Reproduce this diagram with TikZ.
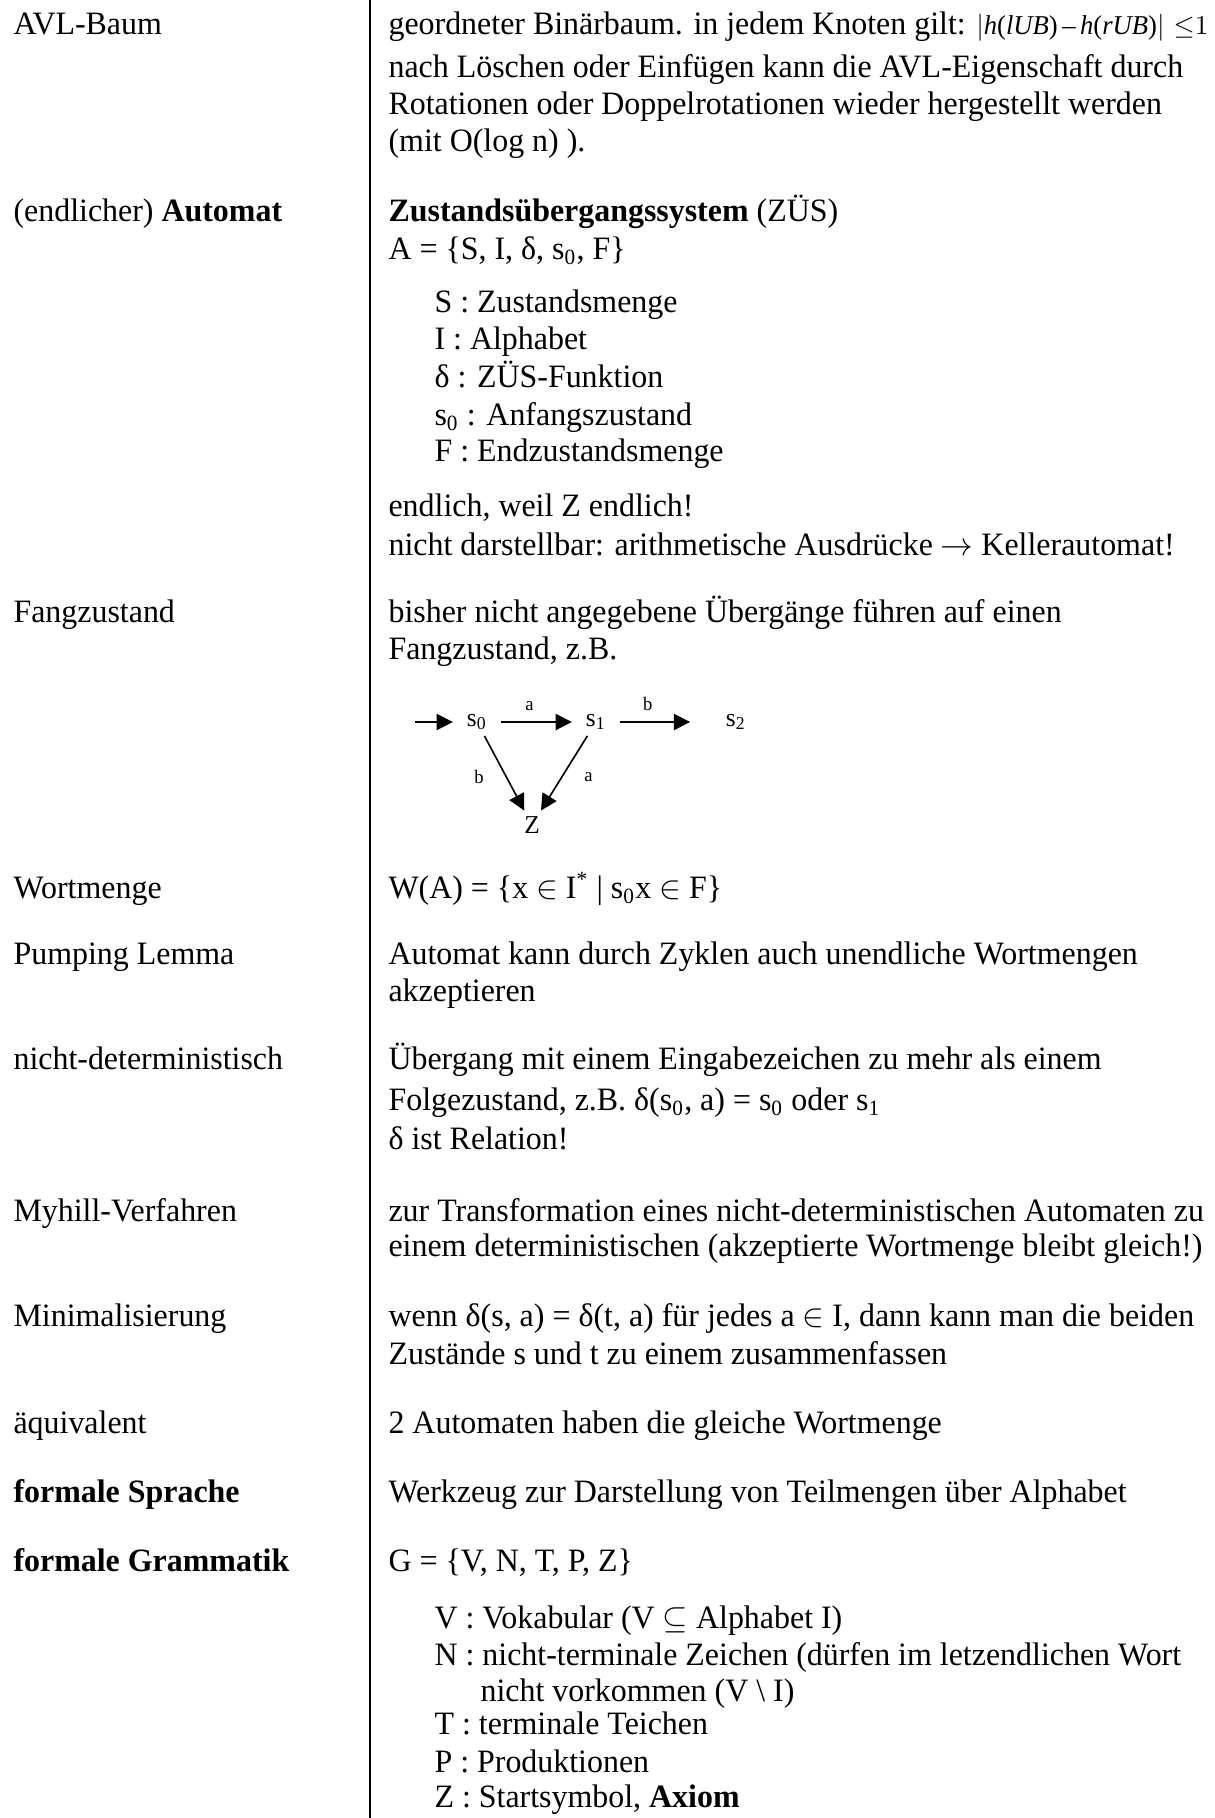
\documentclass[tikz,border=0pt]{standalone}
\usepackage{fontspec}
\setmainfont{Liberation Serif}[FakeStretch=0.978]
\usetikzlibrary{arrows.meta}

\begin{document}
\begin{tikzpicture}[x=0.3676pt, y=-0.3676pt,
		every node/.style={inner sep=0pt, font=\fontsize{12}{14}\selectfont},
		begriff/.style={anchor=mid west},
		erkl/.style={anchor=mid west},
		zustand/.style={inner xsep=5pt, inner ysep=2pt, font=\fontsize{9.5}{11}\selectfont},
		marke/.style={inner sep=1pt, font=\fontsize{7}{8}\selectfont},
		pfeil/.style={-{Triangle[length=6pt,width=6pt]}, line width=0.6pt}]
		
		\useasboundingbox (0,0) rectangle (1215,1818);
		
		% ----- Trennlinie -----
		\draw[line width=0.4pt] (370,0) -- (370,1818);
		
		% ----- AVL-Baum -----
		\node[begriff] (avl) at (13,28) {AVL-Baum};
		\node[erkl] (avl1) at (388,28) {geordneter Binärbaum. in jedem Knoten gilt: {\fontsize{10}{12}\selectfont$\left|\mbox{\textit{h}(\textit{lUB})\,–\,\textit{h}(\textit{rUB})}\right|\,{\le}1$}};
		\node[erkl] (avl2) at (388,71) {nach Löschen oder Einfügen kann die AVL-Eigenschaft durch};
		\node[erkl] (avl3) at (388,108.5) {Rotationen oder Doppelrotationen wieder hergestellt werden};
		\node[erkl] (avl4) at (388,145) {(mit O(log n) ).};
		
		% ----- Automat -----
		\node[begriff] (aut) at (13,215) {(endlicher) \textbf{Automat}};
		\node[erkl] (aut1) at (388,215) {\textbf{Zustandsübergangssystem} (ZÜS)};
		\node[erkl] (aut2) at (388,253) {A = \{S, I, δ, s\textsubscript{0}, F\}};
		\node[erkl] (aut3) at (434,306.5) {S : Zustandsmenge};
		\node[erkl] (aut4) at (434,343) {I : Alphabet};
		\node[erkl] (aut5) at (434,381) {δ : ZÜS-Funktion};
		\node[erkl] (aut6) at (434,419) {s\textsubscript{0} : Anfangszustand};
		\node[erkl] (aut7) at (434,455) {F : Endzustandsmenge};
		\node[erkl] (aut8) at (388,510) {endlich, weil Z endlich!};
		\node[erkl] (aut9) at (388,549) {nicht darstellbar: arithmetische Ausdrücke $\rightarrow$ Kellerautomat!};
		
		% ----- Fangzustand -----
		\node[begriff] (fang) at (13,616) {Fangzustand};
		\node[erkl] (fang1) at (388,616) {bisher nicht angegebene Übergänge führen auf einen};
		\node[erkl] (fang2) at (388,653) {Fangzustand, z.B.};
		
		% Beispielautomat
		\node[zustand] (s0) at (477,722) {s\textsubscript{0}};
		\node[zustand] (s1) at (596,722) {s\textsubscript{1}};
		\node[zustand] (s2) at (736,722) {s\textsubscript{2}};
		\node[zustand] (fz) at (532,825) {Z};
		\coordinate (start) at (415,722);
		
		\draw[pfeil] (start) -- (s0);
		\draw[pfeil] (s0) -- node[marke, above=3pt, pos=0.4] (ma1) {a} (s1);
		\draw[pfeil, shorten >=8pt] (s1) -- node[marke, above=3pt, pos=0.3] (mb1) {b} (s2);
		\draw[pfeil] (s0) -- node[marke, left=7pt, pos=0.55] (mb2) {b} (fz);
		\draw[pfeil] (s1) -- node[marke, right=7pt, pos=0.55] (ma2) {a} (fz);
		
		% ----- Wortmenge -----
		\node[begriff] (wort) at (13,892) {Wortmenge};
		\node[erkl] (wort1) at (388,892) {W(A) = \{x $\in$ I\textsuperscript{*} | s\textsubscript{0}x $\in$ F\}};
		
		% ----- Pumping Lemma -----
		\node[begriff] (pump) at (13,958) {Pumping Lemma};
		\node[erkl] (pump1) at (388,958) {Automat kann durch Zyklen auch unendliche Wortmengen};
		\node[erkl] (pump2) at (388,995) {akzeptieren};
		
		% ----- nicht-deterministisch -----
		\node[begriff] (ndet) at (13,1063) {nicht-deterministisch};
		\node[erkl] (ndet1) at (388,1063) {Übergang mit einem Eingabezeichen zu mehr als einem};
		\node[erkl] (ndet2) at (388,1104) {Folgezustand, z.B. δ(s\textsubscript{0}, a) = s\textsubscript{0} oder s\textsubscript{1}};
		\node[erkl] (ndet3) at (388,1143) {δ ist Relation!};
		
		% ----- Myhill-Verfahren -----
		\node[begriff] (myh) at (13,1215) {Myhill-Verfahren};
		\node[erkl] (myh1) at (388,1215) {zur Transformation eines nicht-deterministischen Automaten zu};
		\node[erkl] (myh2) at (388,1250) {einem deterministischen (akzeptierte Wortmenge bleibt gleich!)};
		
		% ----- Minimalisierung -----
		\node[begriff] (mini) at (13,1320) {Minimalisierung};
		\node[erkl] (mini1) at (388,1320) {wenn δ(s, a) = δ(t, a) für jedes a $\in$ I, dann kann man die beiden};
		\node[erkl] (mini2) at (388,1358) {Zustände s und t zu einem zusammenfassen};
		
		% ----- äquivalent -----
		\node[begriff] (aeq) at (13,1427) {äquivalent};
		\node[erkl] (aeq1) at (388,1427) {2 Automaten haben die gleiche Wortmenge};
		
		% ----- formale Sprache -----
		\node[begriff] (spr) at (13,1496) {\textbf{formale Sprache}};
		\node[erkl] (spr1) at (388,1496) {Werkzeug zur Darstellung von Teilmengen über Alphabet};
		
		% ----- formale Grammatik -----
		\node[begriff] (gram) at (13,1565) {\textbf{formale Grammatik}};
		\node[erkl] (gram1) at (388,1565) {G = \{V, N, T, P, Z\}};
		\node[erkl] (gram2) at (434,1622) {V : Vokabular (V $\subseteq$ Alphabet I)};
		\node[erkl] (gram3) at (434,1659) {N : nicht-terminale Zeichen (dürfen im letzendlichen Wort};
		\node[erkl] (gram4) at (480,1695) {nicht vorkommen (V \textbackslash{} I)};
		\node[erkl] (gram5) at (434,1728) {T : terminale Teichen};
		\node[erkl] (gram6) at (434,1766) {P : Produktionen};
		\node[erkl] (gram7) at (434,1801) {Z : Startsymbol, \textbf{Axiom}};
		
	\end{tikzpicture}
\end{document}
